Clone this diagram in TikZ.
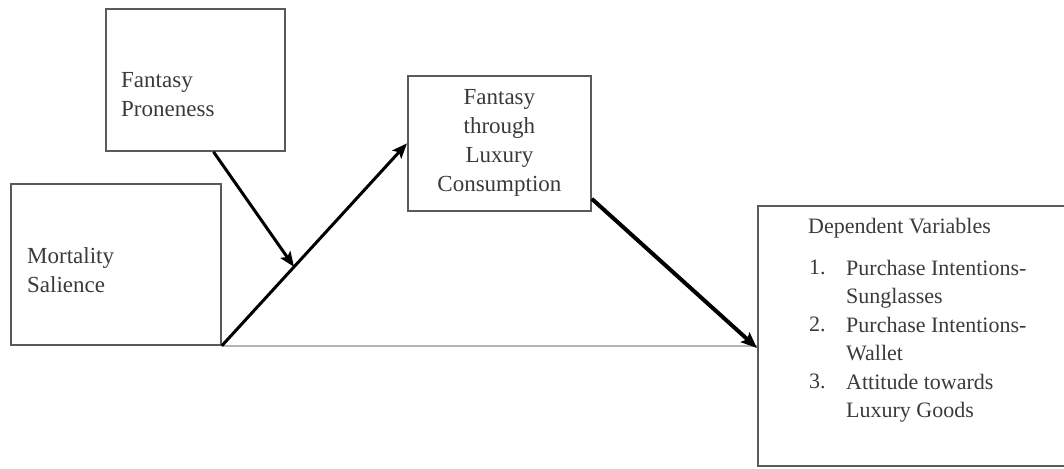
\documentclass[tikz,border=0pt]{standalone}
\usepackage{fontspec}
\setmainfont{Liberation Serif}
\usetikzlibrary{arrows.meta,calc}
\definecolor{boxline}{HTML}{5A5A5A}
\definecolor{txt}{HTML}{3A3A3A}
\definecolor{direct}{HTML}{B4B4B4}
\begin{document}
\begin{tikzpicture}[x=1pt,y=-1pt,
  varbox/.style={draw=boxline,line width=1.8pt,rectangle,inner sep=0pt,anchor=north west},
  lbl/.style={text=txt,font=\fontsize{23}{29}\selectfont,inner sep=0pt},
  path/.style={line width=3pt,black,-{Stealth[length=15pt,width=12pt,inset=3pt]}},
  heavy/.style={line width=4pt,black,-{Stealth[length=16pt,width=13pt,inset=3pt]}}]
\useasboundingbox (0,0) rectangle (1064,468);

% variable boxes
\node[varbox,minimum width=179pt,minimum height=142pt] (fp) at (105,8) {};
\node[varbox,minimum width=210pt,minimum height=161pt] (ms) at (10,183) {};
\node[varbox,minimum width=183pt,minimum height=135pt] (ftlc) at (407,75) {};
\node[varbox,minimum width=320pt,minimum height=260pt] (dv) at (757,205) {};

% box texts
\node[lbl,anchor=west,align=left] (fpt) at (121,95) {Fantasy\\Proneness};
\node[lbl,anchor=west,align=left] (mst) at (27,270) {Mortality\\Salience};
\node[lbl,align=center] (ftlct) at (ftlc.center) {Fantasy\\through\\Luxury\\Consumption};
\node[lbl,anchor=north west,font=\fontsize{22}{28}\selectfont] (dvt) at (808,218) {Dependent Variables};
\node[lbl,anchor=north west,align=left,font=\fontsize{22}{28.5}\selectfont] (dvn) at (809,260)
  {1.\\[28.5pt]2.\\[28.5pt]3.};
\node[lbl,anchor=north west,align=left,font=\fontsize{22}{28.5}\selectfont] (dvl) at (846,260)
  {Purchase Intentions-\\Sunglasses\\Purchase Intentions-\\Wallet\\Attitude towards\\Luxury Goods};

% connectors
\coordinate (mod) at ($(ms.south east)!0.39!(ftlc.west)$);
\coordinate (fpout) at ($(fp.south west)!0.6!(fp.south east)$);
\coordinate (dvin) at (dv.west |- 0,348);
\draw[direct,line width=1.6pt] (ms.south east) -- (ms.south east -| dv.west);
\draw[path] (ms.south east) -- (ftlc.west);
\draw[path] (fpout) -- (mod);
\draw[heavy] ($(ftlc.south east)+(0,-13)$) -- (dvin);
\end{tikzpicture}
\end{document}
